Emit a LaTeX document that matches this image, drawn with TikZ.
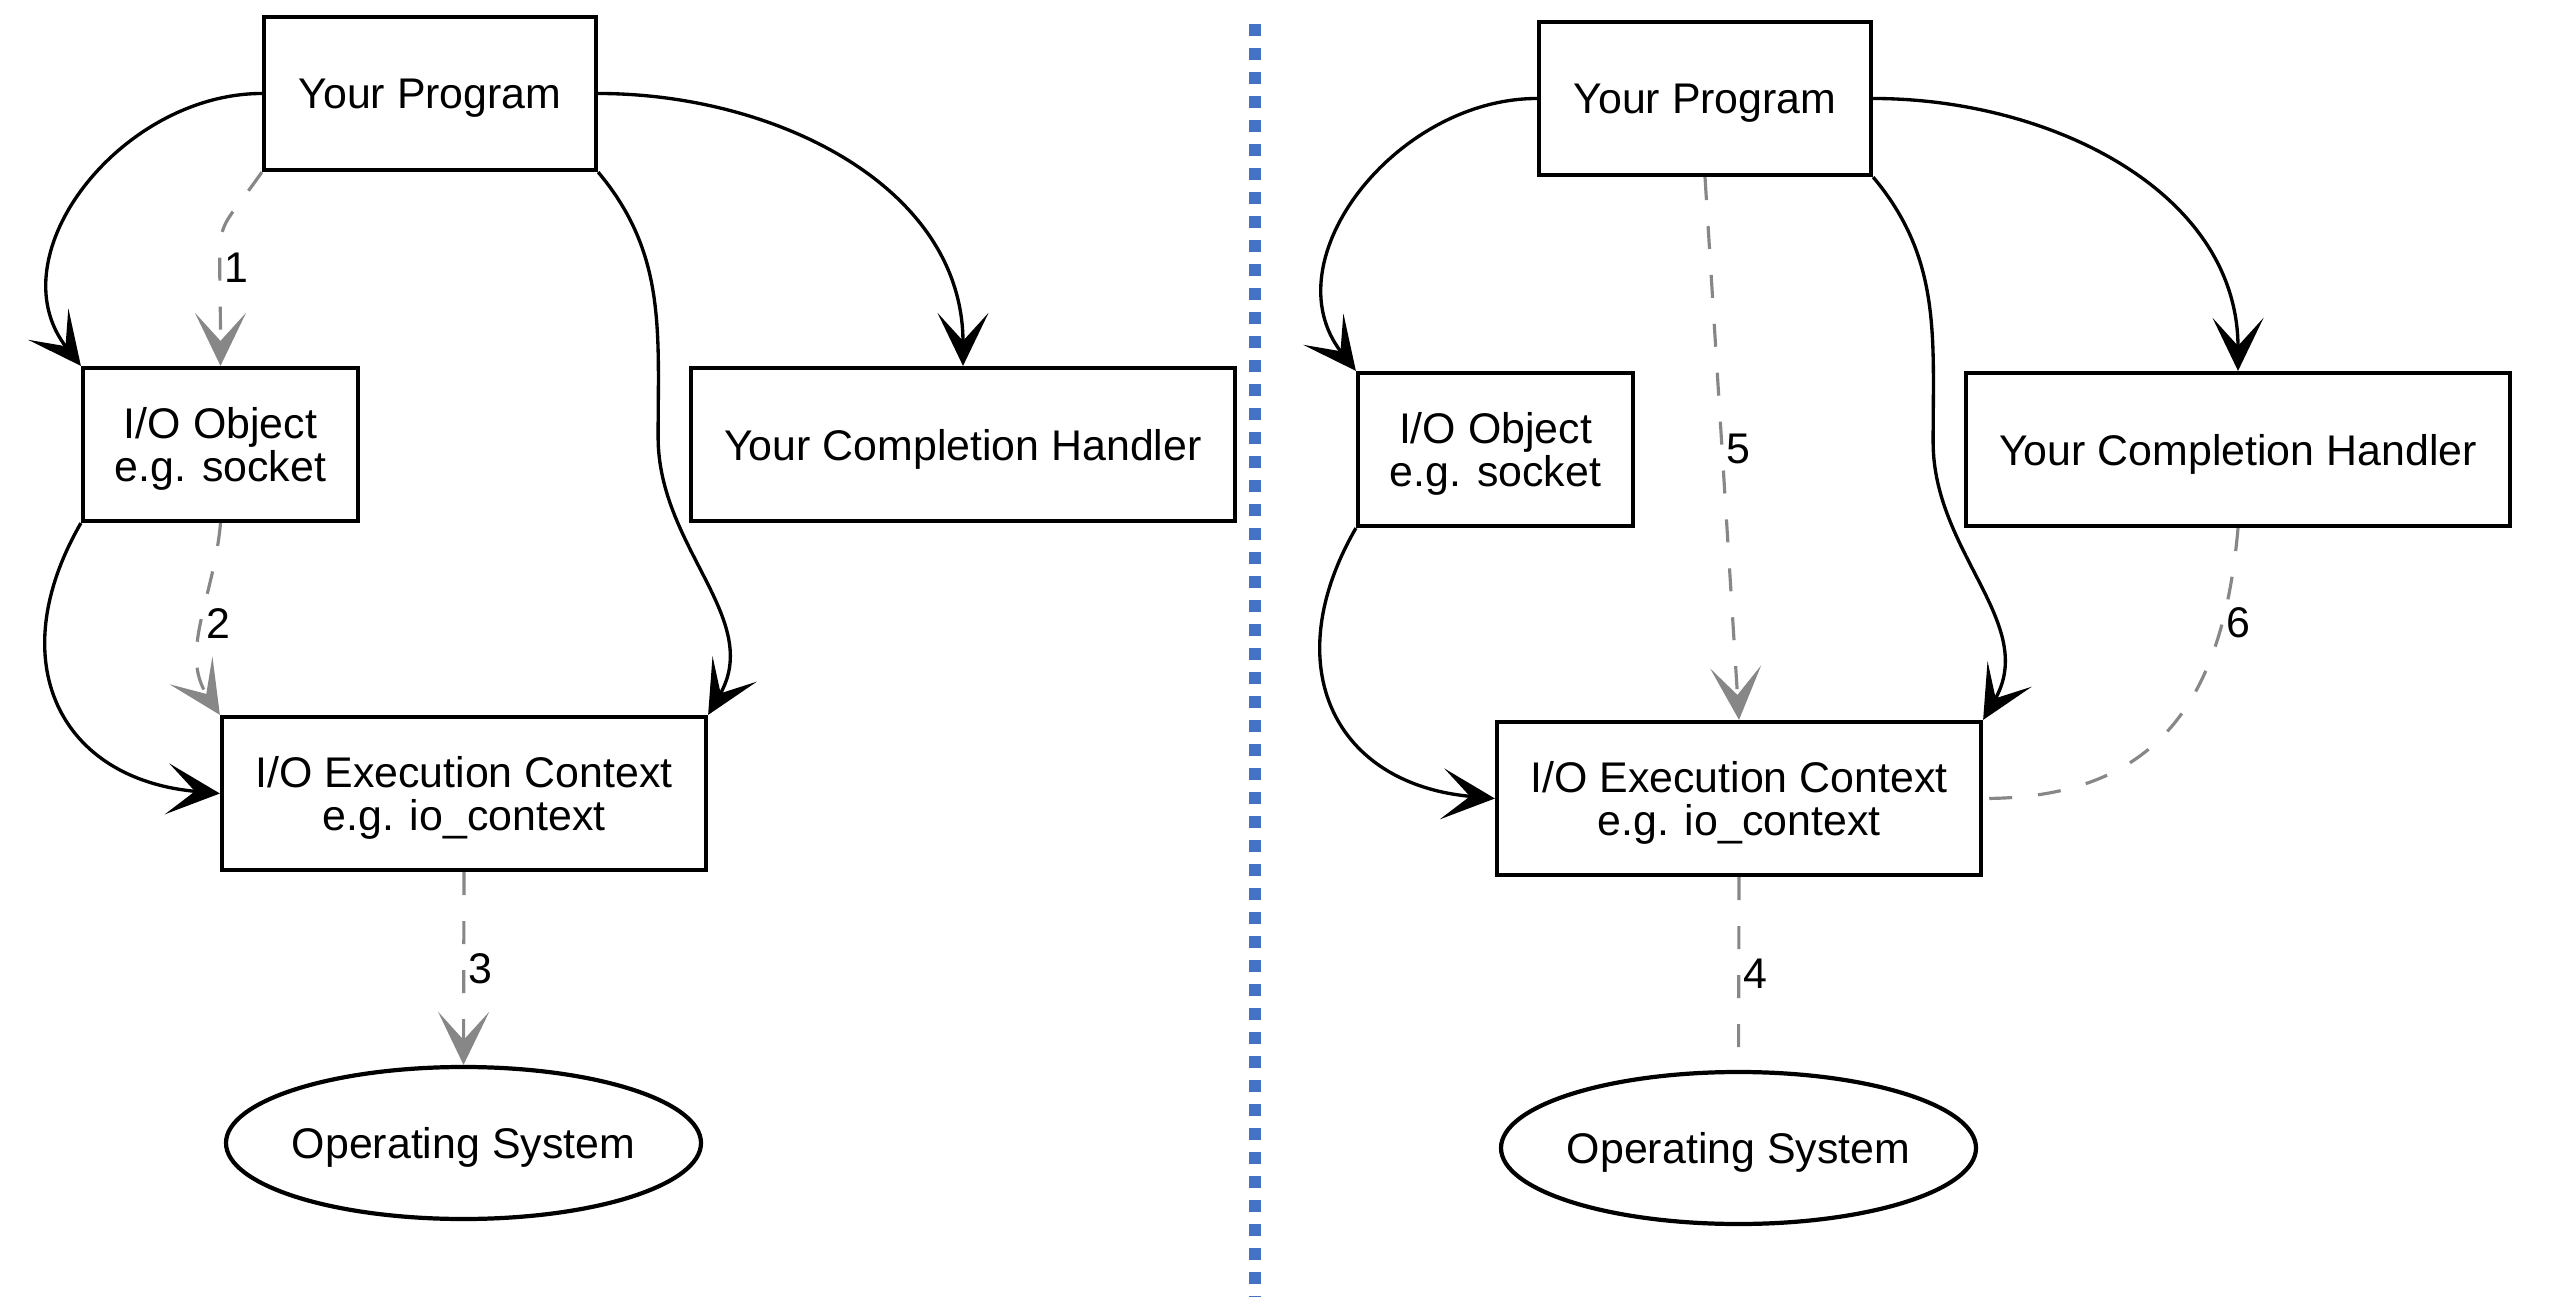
\documentclass[tikz,border=0pt]{standalone}
\usepackage{fontspec}
\setmainfont{Liberation Sans}
\usetikzlibrary{arrows.meta,shapes.geometric}
\definecolor{sepblue}{RGB}{68,114,196}
\definecolor{flowgray}{RGB}{135,135,135}

\begin{document}
\begin{tikzpicture}[
        >={Stealth[length=5.3mm,width=5.1mm,inset=2.8mm]},
        every node/.style={font=\fontsize{12.2}{12.2}\selectfont},
        box/.style={draw,line width=1.2pt,inner sep=0pt,minimum height=1.53cm,align=center,text depth=0pt},
        osnode/.style={draw,ellipse,line width=1.2pt,inner ysep=0pt,inner xsep=-.6mm,minimum width=4.75cm,minimum height=1.52cm,text depth=0pt},
        call/.style={->,line width=.95pt},
        flow/.style={flowgray,line width=.9pt,dash pattern=on 2.3mm off 2.6mm},
        num/.style={right,inner sep=.3mm,text=black}]
        \useasboundingbox (0,0) rectangle (25.55,-12.97);

        \node[box,minimum width=3.32cm] (lprog) at (4.30,-0.935) {Your Program};
        \node[box,minimum width=2.75cm] (lobj) at (2.205,-4.445) {I/O Object\\e.g. socket};
        \node[box,minimum width=5.44cm] (lhandler) at (9.63,-4.445) {Your Completion Handler};
        \node[box,minimum width=4.84cm] (lexec) at (4.64,-7.935) {I/O Execution Context\\e.g. io\_context};
        \node[osnode] (los) at (4.635,-11.43) {Operating System};

        \draw[call] (lprog.west) to[out=180,in=128,looseness=1.1] (lobj.north west);
        \draw[call] (lobj.south west) to[out=240,in=175,looseness=1.35] (lexec.west);
        \draw[call] (lprog.south east) to[out=-50,in=90] ++(0.6,-2.65) to[out=-90,in=60] (lexec.north east);
        \draw[call] (lprog.east) to[out=0,in=90] (lhandler.north);
        \draw[flow,->] (lprog.south west) .. controls +(-125:0.9) and +(90:1.6) .. node[num,pos=.7] {1} (lobj.north);
        \draw[flow,->] (lobj.south) to[out=-95,in=123] node[num] {2} (lexec.north west);
        \draw[flow,->] (lexec.south) -- node[num] {3} (los.north);

        \draw[sepblue,line width=3.4pt,dash pattern=on 1.2mm off 1.2mm] (12.55,-0.24) -- (12.55,-12.97);

        \begin{scope}[shift={(12.75,-0.05)}]
        \node[box,minimum width=3.32cm] (rprog) at (4.30,-0.935) {Your Program};
        \node[box,minimum width=2.75cm] (robj) at (2.205,-4.445) {I/O Object\\e.g. socket};
        \node[box,minimum width=5.44cm] (rhandler) at (9.63,-4.445) {Your Completion Handler};
        \node[box,minimum width=4.84cm] (rexec) at (4.64,-7.935) {I/O Execution Context\\e.g. io\_context};
        \node[osnode] (ros) at (4.635,-11.43) {Operating System};
        \end{scope}

        \draw[call] (rprog.west) to[out=180,in=128,looseness=1.1] (robj.north west);
        \draw[call] (robj.south west) to[out=240,in=175,looseness=1.35] (rexec.west);
        \draw[call] (rprog.south east) to[out=-50,in=90] ++(0.6,-2.65) to[out=-90,in=60] (rexec.north east);
        \draw[call] (rprog.east) to[out=0,in=90] (rhandler.north);
        \draw[flow,->] (rprog.south) -- node[num] {5} (rexec.north);
        \draw[flow] (rhandler.south) to[out=-95,in=0,looseness=1.2] node[num,pos=.2] {6} (rexec.east);
        \draw[flow] (rexec.south) -- node[num] {4} (ros.north);
\end{tikzpicture}
\end{document}
